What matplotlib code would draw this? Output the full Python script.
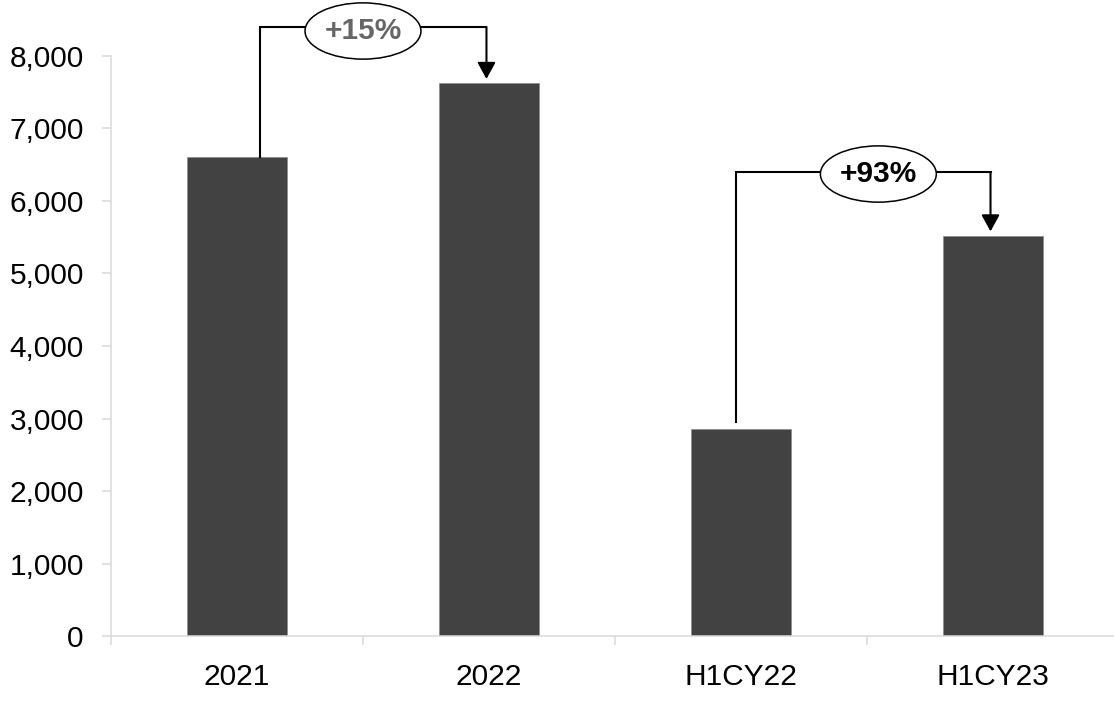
import matplotlib
matplotlib.use("Agg")
import matplotlib.pyplot as plt
from matplotlib.patches import Ellipse
from matplotlib.ticker import FuncFormatter, FixedLocator

plt.rcParams['font.family'] = ['Liberation Sans', 'DejaVu Sans']

# chart data
categories = ['2021', '2022', 'H1CY22', 'H1CY23']
volumes = [6610, 7620, 2860, 5520]

# growth brackets: (from bar, to bar, bracket height, label colour)
brackets = [(0, 1, 8395, '#666666'), (2, 3, 6398, 'black')]

BAR_COLOR = '#424242'
AXIS_GREY = '#d9d9d9'

fig = plt.figure(figsize=(11.14, 7.04), dpi=100)
ax = fig.add_axes([0.0996, 0.0959, 0.9004, 0.9041])

x = list(range(len(categories)))
ax.bar(x, volumes, width=0.4, color=BAR_COLOR, edgecolor='#8a8a8a', linewidth=0.5, zorder=2)

ax.set_xlim(-0.5, 3.48)
ax.set_ylim(0, 8767)

# axis styling
for side in ['top', 'right']:
    ax.spines[side].set_visible(False)
for side in ['left', 'bottom']:
    ax.spines[side].set_color(AXIS_GREY)
    ax.spines[side].set_linewidth(1.1)
ax.spines['left'].set_bounds(0, 8000)

ax.set_yticks(range(0, 8001, 1000))
ax.yaxis.set_major_formatter(FuncFormatter(lambda v, p: f'{int(v):,}'))
ax.tick_params(axis='y', length=6.5, width=1.1, color=AXIS_GREY, pad=13, labelsize=21.5)

ax.set_xticks(x)
ax.set_xticklabels(categories)
ax.xaxis.set_minor_locator(FixedLocator([-0.5, 0.5, 1.5, 2.5]))
ax.tick_params(axis='x', which='major', length=0, pad=19, labelsize=21.5)
ax.tick_params(axis='x', which='minor', length=6.5, width=1.1, color=AXIS_GREY)

# growth brackets with arrows and ellipse labels
offsets = {0: 0.09, 2: -0.02}
for i, j, level, tcolor in brackets:
    x0 = x[i] + offsets[i]
    x1 = x[j] - 0.01
    start = volumes[i] if i == 0 else volumes[i] + 100
    ax.plot([x0, x0, x1], [start, level, level], color='black', lw=1.5,
            solid_joinstyle='miter', zorder=3, clip_on=False)
    ax.annotate('', xy=(x1, volumes[j] + 60), xytext=(x1, level),
                arrowprops=dict(arrowstyle='-|>,head_length=1.0,head_width=0.55',
                                color='black', lw=1.5, shrinkA=0, shrinkB=0),
                zorder=3, annotation_clip=False)
    cx = x[i] + 0.5 + (0.0 if i == 0 else 0.045)
    cy = level - 55 if i == 0 else level - 28
    ax.add_patch(Ellipse((cx, cy), width=0.46, height=775, facecolor='white',
                         edgecolor='black', lw=1.1, zorder=4, clip_on=False))
    growth = round((volumes[j] / volumes[i] - 1) * 100)
    ax.text(cx, cy, f'+{growth}%', ha='center', va='center', fontsize=21.5,
            fontweight='bold', color=tcolor, zorder=5)

fig.savefig('out.png', dpi=100)
